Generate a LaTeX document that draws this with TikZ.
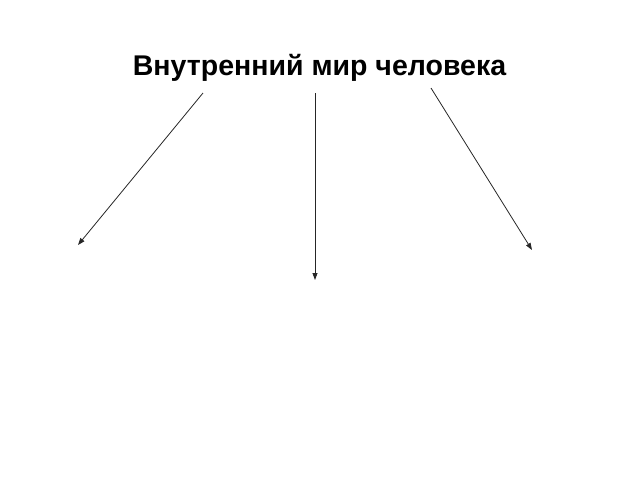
\documentclass[tikz,border=0pt]{standalone}
\usepackage{fontspec}
\setmainfont{Liberation Sans}
\usetikzlibrary{positioning,arrows.meta}

\begin{document}
\begin{tikzpicture}[x=1pt,y=1pt]
\tikzstyle{every node}+=[inner sep=0pt]
\tikzstyle{ray}=[draw=black!85, line width=0.8pt, -{Triangle[length=7pt,width=5pt]}]
\useasboundingbox (0,0) rectangle (640,-480);
\draw (319.5,-68) node (title) {\fontsize{28.5}{32}\selectfont\bfseries Внутренний мир человека};
\coordinate (s1) at (203,-93);
\coordinate (s2) at (315,-93);
\coordinate (s3) at (431,-88);
\coordinate (e1) at (78,-245);
\coordinate (e2) at (315,-280);
\coordinate (e3) at (532,-250);
\draw [ray] (s1) -- (e1);
\draw [ray] (s2) -- (e2);
\draw [ray] (s3) -- (e3);
\end{tikzpicture}
\end{document}
